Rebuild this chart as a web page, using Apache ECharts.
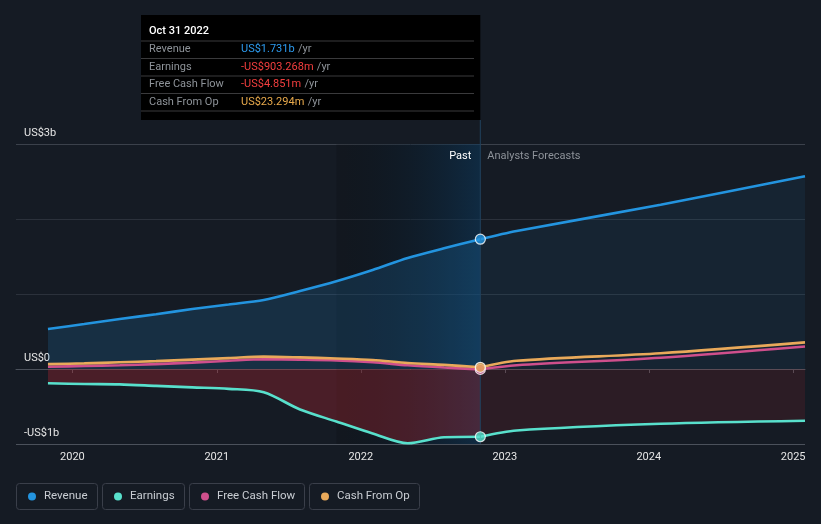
<!DOCTYPE html>
<html>
<head>
<meta charset="utf-8">
<script src="https://cdn.jsdelivr.net/npm/echarts@6/dist/echarts.min.js"></script>
<style>
html,body{margin:0;padding:0;background:#151b24;}
#main{width:821px;height:524px;}
</style>
</head>
<body>
<div id="main"></div>
<script>
// ---- data (US$ billions) ----
const pastDates = ['2019-10-31','2020-01-31','2020-04-30','2020-07-31','2020-10-31','2021-01-31','2021-04-30','2021-07-31','2021-10-31','2022-01-31','2022-04-30','2022-07-31','2022-10-31'];
const forecastDates = ['2022-10-31','2023-01-31','2024-01-31','2025-01-31'];
const revenuePast = [0.533,0.60,0.667,0.73,0.80,0.86,0.92,1.04,1.17,1.32,1.48,1.61,1.731];
const revenueForecast = [1.731,1.84,2.19,2.57];
const earningsPast = [-0.19,-0.20,-0.205,-0.225,-0.245,-0.265,-0.31,-0.54,-0.70,-0.86,-0.99,-0.91,-0.903];
const earningsForecast = [-0.903,-0.82,-0.73,-0.69];
const fcfPast = [0.03,0.04,0.05,0.065,0.085,0.11,0.13,0.125,0.115,0.09,0.05,0.02,-0.005];
const fcfForecast = [-0.005,0.05,0.15,0.30];
const cfoPast = [0.065,0.075,0.09,0.105,0.125,0.145,0.165,0.155,0.14,0.12,0.08,0.055,0.023];
const cfoForecast = [0.023,0.11,0.21,0.355];
const yTickLabels = {'3':'US$3b','0':'US$0','-1':'-US$1b'};
const highlightStart = '2021-10-31';
const splitDate = '2022-10-31';
const axisMin = '2019-08-11';
const axisMax = '2025-01-31';
const legendNames = ['Revenue','Earnings','Free Cash Flow','Cash From Op'];
const tooltipTitle = 'Oct 31 2022';
const tooltipRows = [
  ['Revenue','US$1.731b','#2d9cf0'],
  ['Earnings','-US$903.268m','#f43f3f'],
  ['Free Cash Flow','-US$4.851m','#f43f3f'],
  ['Cash From Op','US$23.294m','#e9aa4c']
];

const C = {rev:'#2394df', earn:'#58e0cc', fcf:'#cf4f8c', cfo:'#e9a95a'};
const FONT = 'Roboto, "Noto Sans", sans-serif';
const t = d => new Date(d + 'T00:00:00').getTime();
const pairs = (dates, vals) => dates.map((d,i)=>[t(d), vals[i]]);

const chart = echarts.init(document.getElementById('main'));

function lineSeries(name, dates, vals, color, area, z){
  const s = {
    name, type:'line', data:pairs(dates, vals), smooth:0.3,
    showSymbol:false, symbol:'none', z: z||3,
    lineStyle:{color, width:2.6}, itemStyle:{color}, emphasis:{disabled:true}
  };
  if (area) s.areaStyle = {color:area, origin:0, opacity:1};
  return s;
}

const lastIdx = pastDates.length - 1;
const option = {
  backgroundColor:'#151b24',
  animation:false,
  textStyle:{fontFamily:FONT},
  grid:{left:16, right:16, top:144, bottom:80, containLabel:false},
  xAxis:{
    type:'time', min:t(axisMin), max:t(axisMax), splitNumber:6,
    axisLine:{show:true, lineStyle:{color:'#4b515b', width:1}},
    axisTick:{show:true, length:4, lineStyle:{color:'#4b515b'}},
    splitLine:{show:false},
    axisLabel:{color:'#e6e6e6', fontSize:11, margin:8, fontFamily:FONT, fontWeight:'normal',
      formatter:v=>{const d=new Date(v); return d.getMonth()===0 && d.getDate()===1 ? String(d.getFullYear()) : '';},
      rich:{}}
  },
  yAxis:{
    type:'value', min:-1, max:3, interval:1,
    axisLine:{show:false}, axisTick:{show:false},
    splitLine:{show:true, lineStyle:{color:['#4b515b','#e8e4e6','#2b313b','#2b313b','#3b414b'], width:1}},
    axisLabel:{inside:true, color:'#e6e6e6', fontSize:11, margin:8, fontFamily:FONT,
      verticalAlign:'bottom', padding:[0,0,5,0],
      formatter:v=>yTickLabels[String(v)]||''}
  },
  series:[
    {
      type:'line', data:[], z:1, silent:true,
      markArea:{silent:true, data:[[{xAxis:t(highlightStart), itemStyle:{opacity:1, color:{type:'linear',x:0,y:0,x2:1,y2:0,
        colorStops:[{offset:0,color:'rgba(0,0,0,0.14)'},{offset:1,color:'rgba(10,58,96,0.5)'}]}}},{xAxis:t(splitDate)}]]}
    },
    lineSeries('Revenue', pastDates, revenuePast, C.rev, 'rgba(35,148,223,0.17)', 3),
    lineSeries('Revenue', forecastDates, revenueForecast, C.rev, 'rgba(35,148,223,0.08)', 3),
    lineSeries('Earnings', pastDates, earningsPast, C.earn, 'rgba(200,40,50,0.3)', 3),
    lineSeries('Earnings', forecastDates, earningsForecast, C.earn, 'rgba(200,40,50,0.13)', 3),
    lineSeries('Free Cash Flow', pastDates, fcfPast, C.fcf, null, 4),
    lineSeries('Free Cash Flow', forecastDates, fcfForecast, C.fcf, null, 4),
    lineSeries('Cash From Op', pastDates, cfoPast, C.cfo, null, 5),
    lineSeries('Cash From Op', forecastDates, cfoForecast, C.cfo, null, 5),
    {
      type:'scatter', z:10, symbolSize:10, silent:true,
      itemStyle:{borderColor:'#ffffff', borderWidth:1.2},
      data:[
        {value:[t(pastDates[lastIdx]), fcfPast[lastIdx]], itemStyle:{color:C.fcf}},
        {value:[t(pastDates[lastIdx]), cfoPast[lastIdx]], itemStyle:{color:C.cfo}},
        {value:[t(pastDates[lastIdx]), revenuePast[lastIdx]], itemStyle:{color:C.rev}},
        {value:[t(pastDates[lastIdx]), earningsPast[lastIdx]], itemStyle:{color:C.earn}}
      ]
    }
  ]
};
chart.setOption(option);

// overlays positioned from the axis scale
const xSplit = chart.convertToPixel({xAxisIndex:0}, t(splitDate));
const yTop = chart.convertToPixel({yAxisIndex:0}, 3);
const yBottom = chart.convertToPixel({yAxisIndex:0}, -1);

const g = [];
g.push({type:'line', z:5, shape:{x1:xSplit, y1:120, x2:xSplit, y2:yBottom}, style:{stroke:'#21405c', lineWidth:1}});
g.push({type:'text', z:6, style:{text:'Past', x:xSplit-9, y:yTop+12, align:'right', verticalAlign:'middle', fill:'#ffffff', font:'11px '+FONT}});
g.push({type:'text', z:6, style:{text:'Analysts Forecasts', x:xSplit+7, y:yTop+12, align:'left', verticalAlign:'middle', fill:'#8d9299', font:'11px '+FONT}});

// tooltip box
const tipL = 141, tipT = 15, tipR = xSplit;
g.push({type:'rect', z:20, shape:{x:tipL, y:tipT, width:tipR-tipL, height:105}, style:{fill:'#000000'}});
g.push({type:'text', z:21, style:{text:tooltipTitle, x:149, y:31, verticalAlign:'middle', fill:'#ffffff', font:'500 11px '+FONT}});
const sepY = [41, 58.5, 76, 93.5, 111];
sepY.forEach(y=>g.push({type:'line', z:21, shape:{x1:tipL, y1:y, x2:474, y2:y}, style:{stroke:'#3a3a3c', lineWidth:1}}));
tooltipRows.forEach((r,i)=>{
  const y = 49.5 + i*17.5;
  g.push({type:'text', z:21, style:{text:r[0], x:149, y, verticalAlign:'middle', fill:'#8e9399', font:'11px '+FONT}});
  g.push({type:'text', z:21, style:{x:241, y, verticalAlign:'middle',
    text:'{v|'+r[1]+'} {u|/yr}', rich:{v:{fill:r[2], font:'11px '+FONT}, u:{fill:'#8e9399', font:'11px '+FONT}}}});
});

// legend
const legendBoxes = [[16,81],[102,82],[189,115],[309,110]];
const legendColors = [C.rev, C.earn, C.fcf, C.cfo];
legendNames.forEach((n,i)=>{
  const [x,w] = legendBoxes[i];
  g.push({type:'rect', z:5, shape:{x:x+0.5, y:483.5, width:w, height:26, r:3}, style:{fill:'#151b24', stroke:'#3a3f4a', lineWidth:1}});
  g.push({type:'circle', z:6, shape:{cx:x+16, cy:496.5, r:4}, style:{fill:legendColors[i]}});
  g.push({type:'text', z:6, style:{text:n, x:x+28, y:496.5, verticalAlign:'middle', fill:'#c9cdd3', font:'11.5px '+FONT}});
});
chart.setOption({graphic:g});
</script>
</body>
</html>
